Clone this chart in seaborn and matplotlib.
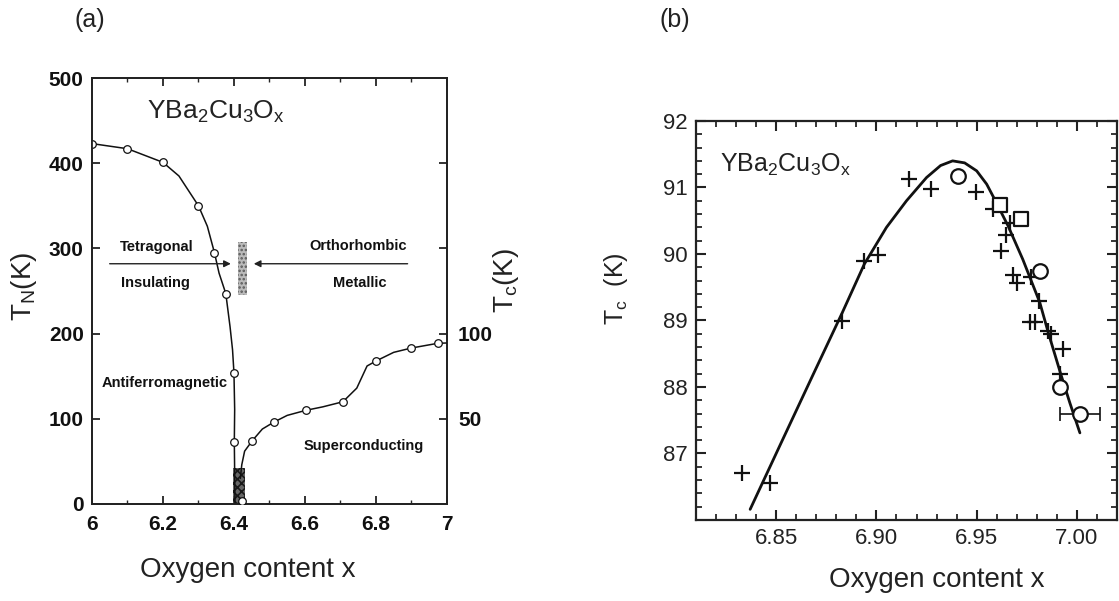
import matplotlib
matplotlib.use('Agg')
import matplotlib.pyplot as plt
import seaborn as sns
from matplotlib.ticker import MultipleLocator
from matplotlib.patches import Rectangle

# ---------------- data: panel (a) ----------------
neel_x = [6.0, 6.1, 6.2, 6.3, 6.345, 6.377, 6.401, 6.400]
neel_T = [423, 417, 401, 350, 295, 247, 154, 73]
neel_curve_x = [6.0, 6.1, 6.2, 6.245, 6.3, 6.325, 6.345, 6.358, 6.377, 6.389, 6.396, 6.400, 6.402, 6.401, 6.403]
neel_curve_T = [423, 417, 401, 385, 350, 326, 295, 271, 247, 208, 181, 154, 111, 73, 0]

tc_x = [6.423, 6.451, 6.512, 6.603, 6.707, 6.801, 6.899, 6.974]
tc_T = [1.5, 37, 48, 55, 60, 84, 91.5, 94.3]
tc_curve_x = [6.418, 6.422, 6.430, 6.451, 6.480, 6.512, 6.550, 6.603, 6.650, 6.707, 6.746, 6.775, 6.801, 6.850, 6.899, 6.974, 7.0]
tc_curve_T = [15, 23, 31, 37, 44, 48, 52, 55, 57, 60, 68, 81, 84, 89, 91.5, 94.3, 94.5]

a_xticks = [6.0, 6.2, 6.4, 6.6, 6.8, 7.0]
a_xticklabels = ['6', '6.2', '6.4', '6.6', '6.8', '7']
a_yticks = [0, 100, 200, 300, 400, 500]
a_rticks = [50, 100, 150, 200]
a_rticklabels = ['50', '100', '', '']

# ---------------- data: panel (b) ----------------
plus_x = [6.8327, 6.847, 6.8827, 6.894, 6.9007, 6.916, 6.927, 6.9495, 6.958, 6.9665,
          6.9645, 6.962, 6.968, 6.970, 6.977, 6.981, 6.9765, 6.979, 6.9857, 6.987,
          6.993, 6.9918]
plus_T = [86.71, 86.56, 88.99, 89.89, 89.98, 91.13, 90.98, 90.93, 90.67, 90.47,
          90.28, 90.04, 89.68, 89.57, 89.65, 89.29, 88.98, 88.97, 88.84, 88.79,
          88.57, 88.19]
circ_x = [6.9407, 6.9815, 6.9915, 7.0015]
circ_T = [91.18, 89.74, 88.00, 87.60]
circ_xerr = [0.0, 0.0, 0.0, 0.01]
sq_x = [6.9615, 6.972]
sq_T = [90.74, 90.53]
fit_x = [6.837, 6.852, 6.868, 6.883, 6.894, 6.905, 6.915, 6.925, 6.932, 6.938,
         6.944, 6.950, 6.955, 6.959, 6.9657, 6.973, 6.9815, 6.9857, 6.992, 6.9965, 7.0015]
fit_T = [86.16, 87.13, 88.16, 89.12, 89.85, 90.40, 90.80, 91.15, 91.33, 91.40,
         91.37, 91.25, 91.05, 90.82, 90.42, 89.92, 89.27, 88.82, 88.19, 87.76, 87.31]
b_xticks = [6.85, 6.90, 6.95, 7.00]
b_yticks = [87, 88, 89, 90, 91, 92]

# ---------------- style ----------------
sns.set_theme(style='ticks')
plt.rcParams['font.family'] = ['Liberation Sans', 'DejaVu Sans']
plt.rcParams['mathtext.fontset'] = 'custom'
plt.rcParams['mathtext.rm'] = 'Liberation Sans'
plt.rcParams['mathtext.it'] = 'Liberation Sans:italic'
plt.rcParams['mathtext.bf'] = 'Liberation Sans:bold'
plt.rcParams['hatch.linewidth'] = 1.2

fig = plt.figure(figsize=(11.19, 6.01), dpi=100)
axa = fig.add_axes([0.0822, 0.1614, 0.3172, 0.7088])
axb = fig.add_axes([0.622, 0.1348, 0.3762, 0.6639])

# ---------------- panel (a) ----------------
axa2 = axa.twinx()
for ax in (axa, axa2):
    for s in ax.spines.values():
        s.set_linewidth(1.3)
        s.set_color('#222222')

# speckled regions of the scan
axa.add_patch(Rectangle((6.398, 0), 0.034, 42, facecolor='#555555', edgecolor='#111111',
                        hatch='xxxx', lw=0, alpha=0.9, zorder=2))
axa.add_patch(Rectangle((6.410, 245), 0.028, 63, facecolor='#aaaaaa', edgecolor='#444444',
                        hatch='....', lw=0, alpha=0.8, zorder=2))

sns.lineplot(x=neel_curve_x, y=neel_curve_T, sort=False, estimator=None,
             color='#111111', lw=1.1, ax=axa, zorder=3)
sns.scatterplot(x=neel_x, y=neel_T, marker='o', s=30, facecolor='white',
                edgecolor='#111111', linewidth=0.9, ax=axa, zorder=4)
sns.lineplot(x=tc_curve_x, y=tc_curve_T, sort=False, estimator=None,
             color='#111111', lw=1.1, ax=axa2, zorder=3)
sns.scatterplot(x=tc_x, y=tc_T, marker='o', s=30, facecolor='white',
                edgecolor='#111111', linewidth=0.9, ax=axa2, zorder=4)

axa.set_xlim(6.0, 7.0)
axa.set_ylim(0, 500)
axa2.set_ylim(0, 250)
axa.set_xticks(a_xticks)
axa.set_xticklabels(a_xticklabels, fontweight='bold', fontsize=15)
axa.xaxis.set_minor_locator(MultipleLocator(0.1))
axa.set_yticks(a_yticks)
axa.set_yticklabels([str(v) for v in a_yticks], fontweight='bold', fontsize=15)
axa.tick_params(axis='both', which='major', direction='in', length=6, width=1.2,
                top=True, right=False, colors='#111111', pad=6)
axa.tick_params(axis='both', which='minor', direction='in', length=3, width=1.0, top=True)
axa.tick_params(axis='x', pad=8)
axa2.set_yticks(a_rticks)
axa2.set_yticklabels(a_rticklabels, fontweight='bold', fontsize=15)
axa2.tick_params(axis='y', direction='in', length=6, width=1.2, pad=8, colors='#111111')

# arrows
axa.annotate('', xy=(6.399, 282), xytext=(6.042, 282),
             arrowprops=dict(arrowstyle='-|>', color='#222222', lw=1.0, mutation_scale=10))
axa.annotate('', xy=(6.448, 282), xytext=(6.897, 282),
             arrowprops=dict(arrowstyle='-|>', color='#222222', lw=1.0, mutation_scale=10))

tk = dict(fontsize=10.5, fontweight='bold', ha='center', va='center', color='#111111')
axa.text(6.181, 302, 'Tetragonal', **tk)
axa.text(6.179, 259, 'Insulating', **tk)
axa.text(6.749, 303, 'Orthorhombic', **tk)
axa.text(6.754, 259, 'Metallic', **tk)
axa.text(6.205, 142, 'Antiferromagnetic', **tk)
axa.text(6.765, 68.5, 'Superconducting', **tk)
axa.text(6.35, 452, r'$\mathregular{YBa_2Cu_3O_x}$', fontsize=19, ha='center', va='baseline',
         color='#222222')

axa.set_xlabel('Oxygen content x', fontsize=20, color='#222222')
axa.xaxis.set_label_coords(0.44, -0.125)
axa.set_ylabel(r'$\mathregular{T_N(K)}$', fontsize=20, color='#222222')
axa.yaxis.set_label_coords(-0.148, 0.51)
axa2.set_ylabel(r'$\mathregular{T_c(K)}$', fontsize=20, color='#222222')
axa2.yaxis.set_label_coords(1.125, 0.525)

# ---------------- panel (b) ----------------
for s in axb.spines.values():
    s.set_linewidth(1.6)
    s.set_color('#222222')

sns.lineplot(x=fit_x, y=fit_T, sort=False, estimator=None, color='#111111', lw=2.0,
             ax=axb, zorder=3)
sns.scatterplot(x=plus_x, y=plus_T, marker='+', s=120, color='#111111', linewidth=1.6,
                ax=axb, zorder=4)
axb.errorbar(circ_x, circ_T, xerr=circ_xerr, fmt='none', ecolor='#111111', elinewidth=1.2,
             capsize=5, capthick=1.2, zorder=4)
sns.scatterplot(x=circ_x, y=circ_T, marker='o', s=110, facecolor='white',
                edgecolor='#111111', linewidth=1.6, ax=axb, zorder=5)
sns.scatterplot(x=sq_x, y=sq_T, marker='s', s=100, facecolor='white',
                edgecolor='#111111', linewidth=1.6, ax=axb, zorder=5)

axb.set_xlim(6.81, 7.02)
axb.set_ylim(86.0, 92.0)
axb.set_xticks(b_xticks)
axb.set_xticklabels(['%.2f' % v for v in b_xticks], fontsize=16)
axb.xaxis.set_minor_locator(MultipleLocator(0.01))
axb.set_yticks(b_yticks)
axb.set_yticklabels([str(v) for v in b_yticks], fontsize=16)
axb.yaxis.set_minor_locator(MultipleLocator(0.2))
axb.tick_params(axis='both', which='major', direction='in', length=7, width=1.5,
                top=True, right=True, colors='#222222', pad=6)
axb.tick_params(axis='both', which='minor', direction='in', length=4, width=1.3,
                top=True, right=True)

axb.text(6.822, 91.24, r'$\mathregular{YBa_2Cu_3O_x}$', fontsize=18, ha='left', va='baseline',
         color='#222222')
axb.set_xlabel('Oxygen content x', fontsize=20, color='#222222')
axb.xaxis.set_label_coords(0.572, -0.118)
axb.set_ylabel(r'$\mathregular{T_c\ \ (K)}$', fontsize=18, color='#222222')
axb.yaxis.set_label_coords(-0.157, 0.58)

for ax in (axa, axa2, axb):
    ax.set_facecolor('none')
    ax.grid(False)

fig.text(90 / 1119, 1 - 20 / 601, '(a)', fontsize=18, ha='center', va='center', color='#222222')
fig.text(675 / 1119, 1 - 20 / 601, '(b)', fontsize=18, ha='center', va='center', color='#222222')

fig.savefig('out.png', dpi=100, facecolor='white')
